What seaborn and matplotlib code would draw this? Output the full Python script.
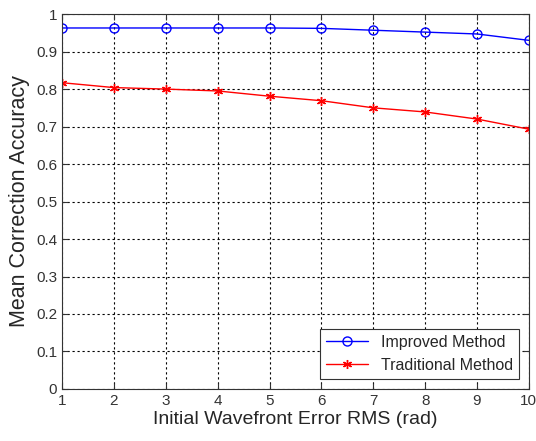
import numpy as np
import pandas as pd
import matplotlib
matplotlib.use("Agg")
import matplotlib.pyplot as plt
import seaborn as sns

# valores
rms = [1, 2, 3, 4, 5, 6, 7, 8, 9, 10]
improved = [0.963, 0.963, 0.963, 0.963, 0.963, 0.962, 0.957, 0.952, 0.947, 0.930]
traditional = [0.817, 0.804, 0.800, 0.795, 0.781, 0.769, 0.750, 0.739, 0.720, 0.693]

sns.set_style("white")
plt.rcParams['font.family'] = ['Liberation Sans', 'DejaVu Sans']

df = pd.DataFrame({
    'rms': rms * 2,
    'acc': improved + traditional,
    'metodo': ['Improved Method'] * len(rms) + ['Traditional Method'] * len(rms),
})

fig = plt.figure(figsize=(5.36, 4.41), dpi=100)
ax = fig.add_axes([0.1157, 0.118, 0.871, 0.85])

sns.lineplot(data=df[df.metodo == 'Improved Method'], x='rms', y='acc', ax=ax,
             color='blue', lw=1, marker='o', markersize=6.5, markerfacecolor='none',
             markeredgecolor='blue', markeredgewidth=1, label='Improved Method')
sns.lineplot(data=df[df.metodo == 'Traditional Method'], x='rms', y='acc', ax=ax,
             color='red', lw=1, marker=(6, 2, 0), markersize=6.5, markeredgecolor='red',
             markeredgewidth=1, label='Traditional Method')

ax.set_xlim(1, 10)
ax.set_ylim(0, 1)
ax.set_xticks(range(1, 11))
ax.set_yticks(np.arange(0, 1.01, 0.1))
ax.set_yticklabels(['0', '0.1', '0.2', '0.3', '0.4', '0.5', '0.6', '0.7', '0.8', '0.9', '1'])
ax.grid(True, color='black', linestyle=(0, (2, 2.5)), linewidth=0.8)
ax.tick_params(direction='in', length=4, labelsize=11, colors='#333333',
               top=True, right=True, bottom=True, left=True)
for s in ax.spines.values():
    s.set_color('#333333')
    s.set_linewidth(0.8)

ax.set_xlabel('Initial Wavefront Error RMS (rad)', fontsize=14, labelpad=2)
ax.set_ylabel('Mean Correction Accuracy', fontsize=15.5, labelpad=4)

leg = ax.legend(loc='lower right', fontsize=11.5, frameon=True, fancybox=False,
                framealpha=1, edgecolor='#333333', borderaxespad=0.6,
                handlelength=2.6, borderpad=0.4, labelspacing=0.5)
leg.get_frame().set_linewidth(0.8)

fig.savefig('out.png', dpi=100)
